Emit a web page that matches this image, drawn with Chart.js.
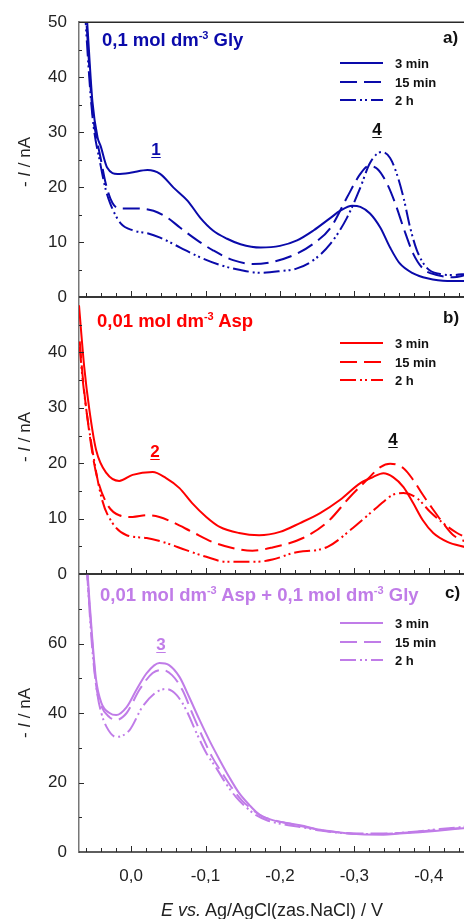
<!DOCTYPE html>
<html><head><meta charset="utf-8">
<script src="https://cdn.jsdelivr.net/npm/chart.js@4/dist/chart.umd.min.js"></script>
<style>
html,body{margin:0;padding:0;background:#fff;overflow:hidden;width:464px;height:919px;}
#wrap{position:relative;width:464px;height:919px;overflow:hidden;font-family:"Liberation Sans",Arial,sans-serif;}
canvas{position:absolute;left:0;top:0;}
.t{position:absolute;white-space:nowrap;font-weight:bold;line-height:1;}
.sup{font-size:11px;position:relative;top:-7px;}
.pk{text-decoration:underline;text-underline-offset:2px;transform:translateX(-50%);font-size:17px;}
.lg{font-size:13px;color:#111;left:395px;}
.yt{position:absolute;white-space:nowrap;font-size:17px;line-height:1;color:#222;transform:translate(-50%,-50%) rotate(-90deg);}
</style></head>
<body><div id="wrap">
<canvas id="ca" width="466" height="919"></canvas>
<canvas id="cb" width="466" height="919"></canvas>
<canvas id="cc" width="466" height="919"></canvas>

<div class="t" style="left:102px;top:31px;font-size:18.5px;color:#0A0AAA;">0,1 mol dm<span class="sup">-3</span> Gly</div>
<div class="t" style="left:97px;top:312px;font-size:18.5px;color:#FF0000;">0,01 mol dm<span class="sup">-3</span> Asp</div>
<div class="t" style="left:100px;top:586px;font-size:18.5px;color:#C07CE8;">0,01 mol dm<span class="sup">-3</span> Asp + 0,1 mol dm<span class="sup">-3</span> Gly</div>
<div class="t" style="left:443px;top:29px;font-size:17px;color:#111;">a)</div>
<div class="t" style="left:443px;top:309px;font-size:17px;color:#111;">b)</div>
<div class="t" style="left:445px;top:584px;font-size:17px;color:#111;">c)</div>

<div class="t pk" style="left:156px;top:141px;color:#0A0AAA;">1</div>
<div class="t pk" style="left:377px;top:121px;color:#111;">4</div>
<div class="t pk" style="left:155px;top:443px;color:#FF0000;">2</div>
<div class="t pk" style="left:393px;top:431px;color:#111;">4</div>
<div class="t pk" style="left:161px;top:636px;color:#C07CE8;">3</div>

<div class="t lg" style="top:56.5px;">3 min</div>
<div class="t lg" style="top:75.5px;">15 min</div>
<div class="t lg" style="top:93.5px;">2 h</div>
<div class="t lg" style="top:336.5px;">3 min</div>
<div class="t lg" style="top:355.5px;">15 min</div>
<div class="t lg" style="top:373.5px;">2 h</div>
<div class="t lg" style="top:616.5px;">3 min</div>
<div class="t lg" style="top:635.5px;">15 min</div>
<div class="t lg" style="top:653.5px;">2 h</div>

<div class="yt" style="left:24px;top:162px;">- <i>I</i> / nA</div>
<div class="yt" style="left:24px;top:437px;">- <i>I</i> / nA</div>
<div class="yt" style="left:24px;top:713px;">- <i>I</i> / nA</div>

<div class="t" style="left:272px;top:901px;font-size:18px;font-weight:normal;color:#222;transform:translateX(-50%);"><i>E vs.</i> Ag/AgCl(zas.NaCl) / V</div>
</div>
<script>
// ---------- data (E in V, current -I in nA) ----------
const seriesLabels = ['3 min', '15 min', '2 h'];

// panel a: 0,1 mol dm-3 Gly
const glyE3  = [0.063,0.059,0.052,0.045,0.041,0.032,0.018,0.001,-0.022,-0.039,-0.057,-0.076,-0.093,-0.110,-0.129,-0.147,-0.174,-0.200,-0.223,-0.245,-0.268,-0.281,-0.297,-0.308,-0.321,-0.335,-0.348,-0.361,-0.379,-0.398,-0.425,-0.450];
const glyI3  = [58,50,35.6,29,27.5,23.5,22.4,22.6,23.1,22.4,19.9,17.5,14.4,12.1,10.6,9.6,9.0,9.3,10.3,12.1,14.4,15.7,16.6,16.4,15.2,12.6,9.0,6.1,4.3,3.4,2.9,2.9];
const glyE15 = [0.064,0.060,0.052,0.045,0.041,0.034,0.025,0.014,-0.008,-0.030,-0.049,-0.066,-0.089,-0.110,-0.137,-0.164,-0.191,-0.223,-0.245,-0.268,-0.290,-0.308,-0.319,-0.331,-0.344,-0.355,-0.366,-0.379,-0.392,-0.411,-0.433,-0.450];
const glyI15 = [58,50,34,28,25.3,20.6,17.1,16.1,16.1,15.7,14.4,12.6,10.3,8.5,6.7,6.0,6.4,7.9,9.7,12.6,18.1,22.4,23.8,23.3,20.6,17.0,12.6,7.9,5.2,4.0,3.6,4.0];
const glyE2h = [0.064,0.061,0.052,0.041,0.034,0.028,0.014,-0.003,-0.022,-0.039,-0.066,-0.093,-0.120,-0.147,-0.174,-0.200,-0.223,-0.245,-0.268,-0.290,-0.308,-0.321,-0.337,-0.348,-0.357,-0.366,-0.375,-0.384,-0.398,-0.415,-0.433,-0.450];
const glyI2h = [58,50,33,24,19.5,17.0,13.4,12.1,11.6,10.8,9.0,7.2,5.8,4.9,4.4,4.7,5.2,6.7,9.7,14.4,19.9,24.4,26.4,25.3,22.4,18.1,12.6,8.5,5.2,4.2,4.0,4.2];

// panel b: 0,01 mol dm-3 Asp
const aspE3  = [0.070,0.063,0.056,0.047,0.033,0.016,-0.002,-0.029,-0.047,-0.065,-0.082,-0.101,-0.119,-0.145,-0.172,-0.200,-0.227,-0.254,-0.281,-0.308,-0.325,-0.339,-0.352,-0.366,-0.379,-0.392,-0.406,-0.425,-0.450];
const aspI3  = [48.5,37.4,29.6,22.4,18.2,16.8,17.9,18.4,17.3,15.5,12.8,10.3,8.5,7.4,7.0,7.6,9.2,11.0,13.4,16.4,17.5,18.2,17.5,15.7,12.8,9.7,7.4,5.8,4.8];
const aspE15 = [0.069,0.065,0.056,0.047,0.033,0.016,-0.002,-0.021,-0.038,-0.055,-0.082,-0.109,-0.136,-0.163,-0.190,-0.231,-0.264,-0.294,-0.317,-0.335,-0.348,-0.366,-0.379,-0.392,-0.406,-0.418,-0.433,-0.450];
const aspI15 = [42,35.6,25.4,18.2,12.8,10.6,10.3,10.6,10.3,9.4,7.6,5.8,4.7,4.2,4.8,6.5,9.4,13.9,17.0,19.3,19.9,19.1,17.0,14.3,11.6,9.4,7.0,5.8];
const aspE2h = [0.069,0.065,0.052,0.039,0.025,0.006,-0.021,-0.047,-0.074,-0.101,-0.128,-0.167,-0.190,-0.218,-0.264,-0.298,-0.331,-0.352,-0.366,-0.384,-0.402,-0.419,-0.438,-0.450];
const aspI2h = [41,35,22.4,13.4,9.2,7.0,6.5,5.6,4.3,3.1,2.2,2.2,2.6,3.8,4.9,8.3,12.1,14.3,14.6,13.7,11.2,9.2,7.4,6.6];

// panel c: 0,01 mol dm-3 Asp + 0,1 mol dm-3 Gly
const mixE3  = [0.059,0.056,0.052,0.047,0.040,0.029,0.020,0.006,-0.007,-0.021,-0.038,-0.051,-0.065,-0.078,-0.092,-0.105,-0.119,-0.132,-0.145,-0.159,-0.172,-0.187,-0.207,-0.227,-0.254,-0.281,-0.308,-0.339,-0.361,-0.388,-0.415,-0.450];
const mixI3  = [82,72.5,61,49.5,42.9,40.0,39.4,41.7,46.6,51.5,54.4,53.8,50.4,44.6,38.0,32.2,26.5,21.5,17.0,13.5,10.8,9.4,8.4,7.7,6.4,5.6,5.1,5.0,5.3,5.7,6.2,6.9];
const mixE15 = [0.062,0.059,0.052,0.047,0.040,0.029,0.020,0.006,-0.011,-0.029,-0.042,-0.055,-0.069,-0.082,-0.096,-0.109,-0.123,-0.136,-0.149,-0.163,-0.176,-0.194,-0.214,-0.234,-0.254,-0.281,-0.308,-0.339,-0.361,-0.388,-0.415,-0.450];
const mixI15 = [90,80,60,48,42,38.8,38.0,40.0,46.6,51.5,52.4,50.9,46.6,40.0,33.1,27.3,22.5,18.3,14.8,12.2,10.3,9.0,8.1,7.2,6.3,5.6,5.3,5.3,5.5,5.9,6.4,7.0];
const mixE2h = [0.062,0.059,0.052,0.045,0.040,0.033,0.020,0.002,-0.015,-0.034,-0.047,-0.061,-0.074,-0.088,-0.101,-0.115,-0.128,-0.141,-0.155,-0.168,-0.184,-0.204,-0.227,-0.254,-0.281,-0.308,-0.339,-0.361,-0.388,-0.415,-0.450];
const mixI2h = [90,80,58,45,40,36.0,33.1,35.1,41.7,46.0,46.9,45.2,40.9,34.2,28.5,24.0,19.5,15.8,12.8,10.6,9.0,8.0,7.2,6.2,5.5,5.2,5.2,5.5,6.0,6.6,7.3];

// ---------- styling ----------
const DASHES = [[], [17, 7], [16, 4, 2, 3, 2, 4]];
const FONT = "'Liberation Sans', Arial, sans-serif";

const decor = {
  id: 'decor',
  afterDraw(chart, args, o) {
    const {ctx, chartArea: a, scales: {x, y}} = chart;
    ctx.save();
    ctx.strokeStyle = '#2a2a2a';
    ctx.lineWidth = 1.5;
    ctx.beginPath();
    ctx.moveTo(a.left, a.top); ctx.lineTo(a.right + 2, a.top);
    ctx.moveTo(a.left, a.bottom); ctx.lineTo(a.right + 2, a.bottom);
    ctx.stroke();
    ctx.lineWidth = 1;
    ctx.beginPath();
    for (let k = -25; k <= 5; k++) {
      const v = k * 0.02;
      const px = x.getPixelForValue(v);
      if (px < a.left + 1 || px > a.right) continue;
      const len = (k % 5 === 0) ? 6 : 4;
      ctx.moveTo(Math.round(px) + 0.5, a.bottom); ctx.lineTo(Math.round(px) + 0.5, a.bottom - len);
    }
    for (let v = 0; v <= y.max + 1e-9; v += o.yMinor) {
      const py = y.getPixelForValue(v);
      const major = Math.abs(v / o.yMajor - Math.round(v / o.yMajor)) < 1e-6;
      if (py <= a.top + 1 || py >= a.bottom - 1) continue;
      ctx.moveTo(a.left, Math.round(py) + 0.5); ctx.lineTo(a.left + (major ? 5 : 3), Math.round(py) + 0.5);
    }
    ctx.stroke();
    ctx.lineWidth = 2;
    ctx.strokeStyle = o.color;
    o.legendY.forEach((ly, i) => {
      ctx.setLineDash(DASHES[i]);
      ctx.beginPath(); ctx.moveTo(340, ly); ctx.lineTo(383, ly); ctx.stroke();
    });
    ctx.restore();
  }
};

function pts(e, v) { return e.map((xv, i) => ({x: xv, y: v[i]})); }

function panel(id, color, series, ymax, yStep, yMinor, padTop, padBottom, showX, legendY) {
  return new Chart(document.getElementById(id), {
    type: 'line',
    data: {
      datasets: series.map((s, i) => ({
        label: seriesLabels[i],
        data: pts(s[0], s[1]),
        borderColor: color,
        borderWidth: 2,
        borderDash: DASHES[i],
        pointRadius: 0,
        fill: false,
        cubicInterpolationMode: 'monotone'
      }))
    },
    options: {
      responsive: false, animation: false, events: [],
      layout: {padding: {top: padTop, bottom: padBottom, left: 0, right: 0}},
      plugins: {
        legend: {display: false}, tooltip: {enabled: false},
        decor: {color, legendY, yMajor: yStep, yMinor}
      },
      scales: {
        x: {
          type: 'linear', reverse: true, min: -0.45, max: 0.07,
          display: showX,
          grid: {display: false, drawTicks: false},
          border: {display: false},
          ticks: {
            stepSize: 0.1, includeBounds: false, padding: 14, maxRotation: 0,
            color: '#222', font: {family: FONT, size: 17},
            callback: v => v.toFixed(1).replace('-0.0', '0.0').replace('.', ',')
          },
          afterFit: s => { s.height = showX ? 67 : 0; }
        },
        y: {
          min: 0, max: ymax,
          grid: {display: false, drawTicks: false},
          border: {display: true, color: '#777', width: 1.5},
          ticks: {
            stepSize: yStep, padding: 12, color: '#222', font: {family: FONT, size: 17},
            callback: v => (id !== 'ca' && v === ymax) ? '' : String(v)
          },
          afterFit: s => { s.width = 79; }
        }
      }
    },
    plugins: [decor]
  });
}

panel('ca', '#0A0AAA', [[glyE3, glyI3], [glyE15, glyI15], [glyE2h, glyI2h]], 50, 10, 5, 20, 622, false, [63, 82, 100]);
panel('cb', '#FF0000', [[aspE3, aspI3], [aspE15, aspI15], [aspE2h, aspI2h]], 50, 10, 5, 297, 345, false, [343, 362, 380]);
panel('cc', '#C07CE8', [[mixE3, mixI3], [mixE15, mixI15], [mixE2h, mixI2h]], 80, 20, 10, 574, 0, true, [623, 642, 660]);
</script>
</body></html>
